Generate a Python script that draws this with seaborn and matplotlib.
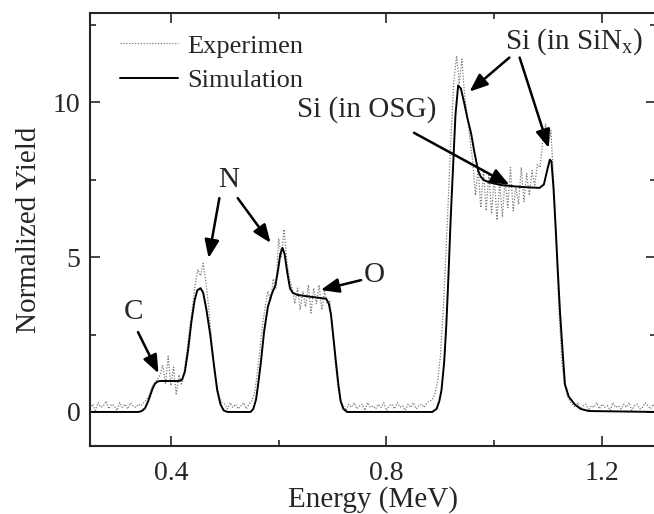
import numpy as np
import pandas as pd
import matplotlib
matplotlib.use("Agg")
import matplotlib.pyplot as plt
import seaborn as sns

# ---------------- data ----------------
# Simulation curve (energy in MeV, normalized yield)
sim_energy = [0.250, 0.340, 0.346, 0.352, 0.358, 0.362, 0.366, 0.370, 0.375, 0.380,
              0.400, 0.415, 0.421, 0.426, 0.432, 0.438, 0.444, 0.449, 0.455, 0.460,
              0.466, 0.473, 0.480, 0.486, 0.492, 0.498, 0.505, 0.548, 0.553, 0.558,
              0.562, 0.567, 0.573, 0.580, 0.587, 0.594, 0.599, 0.603, 0.607, 0.611,
              0.616, 0.621, 0.626, 0.635, 0.660, 0.688, 0.693, 0.697, 0.701, 0.706,
              0.711, 0.715, 0.720, 0.727, 0.885, 0.893, 0.898, 0.902, 0.907, 0.911,
              0.915, 0.919, 0.924, 0.928, 0.933, 0.938, 0.944, 0.950, 0.957, 0.963,
              0.970, 0.975, 0.980, 0.990, 1.013, 1.050, 1.084, 1.092, 1.098, 1.103,
              1.106, 1.110, 1.114, 1.118, 1.122, 1.127, 1.131, 1.138, 1.149, 1.160,
              1.175, 1.300]
sim_yield = [0.00, 0.00, 0.03, 0.12, 0.35, 0.55, 0.75, 0.90, 0.98, 1.00,
             1.00, 1.00, 1.05, 1.30, 2.00, 2.90, 3.60, 3.93, 4.00, 3.85,
             3.30, 2.50, 1.50, 0.70, 0.25, 0.05, 0.00, 0.00, 0.10, 0.40,
             0.90, 1.60, 2.60, 3.40, 3.80, 4.10, 4.60, 5.10, 5.30, 5.10,
             4.50, 4.00, 3.85, 3.78, 3.72, 3.66, 3.50, 3.15, 2.50, 1.65,
             0.85, 0.35, 0.10, 0.00, 0.00, 0.10, 0.35, 0.70, 1.60, 2.80,
             4.40, 6.20, 8.10, 9.60, 10.55, 10.45, 10.00, 9.50, 9.00, 8.40,
             7.80, 7.60, 7.50, 7.42, 7.33, 7.27, 7.24, 7.35, 7.80, 8.15,
             8.10, 7.20, 5.90, 4.50, 3.20, 1.90, 0.90, 0.50, 0.25, 0.10,
             0.03, 0.00]

# Experimental spectrum, channels from 0.25 to 1.30 MeV (step 0.005 MeV)
exp_yield = [
    0.10, 0.25, 0.05, 0.30, 0.15, 0.20, 0.35, 0.10, 0.25, 0.20,
    0.05, 0.30, 0.15, 0.25, 0.10, 0.30, 0.20, 0.15, 0.25, 0.20,
    0.30, 0.40, 0.55, 0.80, 0.95, 1.05, 1.20, 1.50, 0.90, 1.80,
    0.85, 1.45, 0.55, 1.20, 0.90, 1.35, 2.00, 2.70, 3.40, 4.10,
    4.60, 4.40, 4.80, 4.20, 3.40, 2.40, 1.60, 0.90, 0.50, 0.30,
    0.25, 0.10, 0.30, 0.15, 0.25, 0.10, 0.20, 0.30, 0.10, 0.25,
    0.35, 0.60, 1.20, 2.00, 2.80, 3.40, 3.90, 3.60, 4.30, 4.00,
    5.60, 5.00, 5.90, 4.90, 4.30, 4.00, 3.50, 4.00, 3.30, 3.90,
    3.40, 4.10, 3.20, 4.00, 3.50, 4.10, 3.30, 3.90, 3.50, 3.60,
    2.60, 1.60, 0.80, 0.35, 0.20, 0.05, 0.25, 0.15, 0.30, 0.10,
    0.20, 0.25, 0.05, 0.30, 0.15, 0.20, 0.10, 0.25, 0.15, 0.30,
    0.05, 0.20, 0.25, 0.10, 0.30, 0.15, 0.20, 0.05, 0.25, 0.15,
    0.30, 0.10, 0.20, 0.25, 0.15, 0.30, 0.35, 0.40, 0.60, 1.00,
    1.80, 3.20, 5.00, 7.00, 9.00, 10.70, 11.50, 10.60, 11.40, 10.20,
    9.60, 8.80, 8.10, 7.00, 7.90, 6.60, 7.80, 6.50, 7.70, 6.40,
    7.60, 6.20, 7.40, 6.30, 7.50, 6.60, 7.90, 6.50, 7.30, 6.70,
    7.90, 6.80, 7.70, 7.00, 7.80, 7.30, 8.00, 7.90, 8.80, 9.30,
    8.60, 9.10, 7.50, 5.50, 3.30, 1.70, 0.90, 0.55, 0.35, 0.25,
    0.15, 0.30, 0.10, 0.20, 0.25, 0.05, 0.20, 0.15, 0.30, 0.10,
    0.25, 0.15, 0.20, 0.05, 0.30, 0.15, 0.20, 0.10, 0.25, 0.15,
    0.30, 0.05, 0.20, 0.25, 0.10, 0.15, 0.30, 0.20, 0.10, 0.25,
    0.15]
exp_energy = np.linspace(0.25, 1.30, len(exp_yield))

x_ticks = [0.4, 0.8, 1.2]
x_tick_labels = ["0.4", "0.8", "1.2"]
y_ticks = [0, 5, 10]
y_tick_labels = ["0", "5", "10"]

series_labels = ["Experimen", "Simulation"]

# ---------------- plot ----------------
sns.set_style("ticks")
plt.rcParams["font.family"] = ["Liberation Serif", "DejaVu Serif"]
plt.rcParams["mathtext.fontset"] = "custom"
plt.rcParams["mathtext.rm"] = "Liberation Serif"
plt.rcParams["mathtext.it"] = "Liberation Serif:italic"

fig = plt.figure(figsize=(6.54, 5.14), dpi=100)
ax = fig.add_axes([90 / 654, 68 / 514, 566 / 654, 433.3 / 514])

exp_df = pd.DataFrame({"Energy": exp_energy, "Yield": exp_yield})
sim_df = pd.DataFrame({"Energy": sim_energy, "Yield": sim_yield})

sns.lineplot(data=exp_df, x="Energy", y="Yield", ax=ax, color="#7a7a7a",
             lw=0.9, linestyle=(0, (1, 1.3)), label=series_labels[0],
             estimator=None, sort=False)
sns.lineplot(data=sim_df, x="Energy", y="Yield", ax=ax, color="black",
             lw=1.4, label=series_labels[1], estimator=None, sort=False)

ax.set_xlim(0.25, 1.30)
ax.set_ylim(-1.1, 12.9)
ax.set_xticks(x_ticks)
ax.set_xticklabels(x_tick_labels)
ax.set_xticks([0.6, 1.0], minor=True)
ax.set_yticks(y_ticks)
ax.set_yticklabels(y_tick_labels)
ax.set_yticks([2.5, 7.5, 12.5], minor=True)
ax.tick_params(which="both", direction="in", top=True, right=True,
               width=1.2, labelsize=20)
ax.tick_params(axis="x", which="major", pad=11)
ax.tick_params(axis="y", which="major", pad=7)
ax.tick_params(which="major", length=7)
ax.tick_params(which="minor", length=4)
for s in ax.spines.values():
    s.set_linewidth(1.5)

ax.set_xlabel("Energy (MeV)", fontsize=21, labelpad=0)
ax.set_ylabel("Normalized Yield", fontsize=21, labelpad=8)

leg = ax.legend(loc="upper left", bbox_to_anchor=(0.035, 0.975), frameon=False,
                fontsize=19, handlelength=2.2, handletextpad=0.35,
                labelspacing=0.42, borderaxespad=0)

# ---------------- annotations ----------------
arrow_kw = dict(arrowstyle="-|>,head_length=0.55,head_width=0.22",
                color="black", lw=1.8, mutation_scale=20,
                shrinkA=0, shrinkB=0)
fs = 21

ax.text(0.330, 3.23, "C", fontsize=fs, ha="center", va="center")
ax.annotate("", xy=(0.377, 1.25), xytext=(0.339, 2.58), arrowprops=arrow_kw)

ax.text(0.507, 7.50, "N", fontsize=fs, ha="center", va="center")
ax.annotate("", xy=(0.470, 4.97), xytext=(0.490, 6.91), arrowprops=arrow_kw)
ax.annotate("", xy=(0.585, 5.46), xytext=(0.524, 6.91), arrowprops=arrow_kw)

ax.text(0.777, 4.42, "O", fontsize=fs, ha="center", va="center")
ax.annotate("", xy=(0.678, 3.94), xytext=(0.753, 4.26), arrowprops=arrow_kw)

ax.text(1.019, 11.95, r"Si (in SiN$_{\mathrm{x}}$)", fontsize=fs,
        ha="left", va="center")
ax.annotate("", xy=(0.954, 10.35), xytext=(1.028, 11.45), arrowprops=arrow_kw)
ax.annotate("", xy=(1.101, 8.53), xytext=(1.047, 11.45), arrowprops=arrow_kw)

ax.text(0.892, 9.76, "Si (in OSG)", fontsize=fs, ha="right", va="center")
ax.annotate("", xy=(1.028, 7.34), xytext=(0.851, 9.02), arrowprops=arrow_kw)

fig.savefig("out.png", dpi=100)
